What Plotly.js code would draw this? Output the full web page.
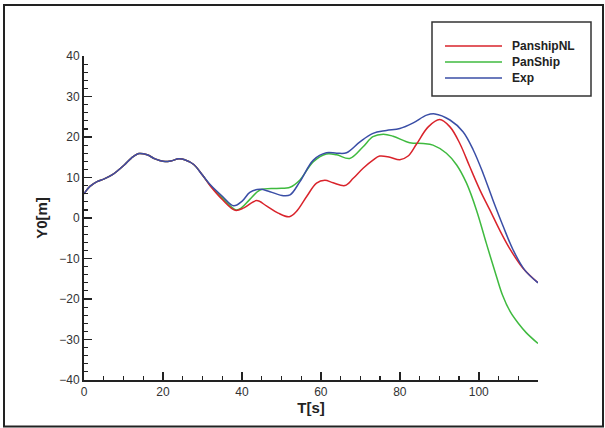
<!DOCTYPE html>
<html>
<head>
<meta charset="utf-8">
<script src="https://cdn.plot.ly/plotly-3.0.1.min.js"></script>
<style>
  html, body { margin: 0; padding: 0; background: #fff; }
  #chart { width: 605px; height: 428px; }
</style>
</head>
<body>
<div id="chart"></div>
<script>
// ---- data ----
const seriesNames = ['PanshipNL', 'PanShip', 'Exp'];
const seriesColors = ['#d9232b', '#3fba3f', '#3a4ea6'];

const tNL = [0, 1.5, 3.3, 5, 7.2, 10.2, 12, 13.9, 16, 18, 20, 22, 24, 25.5, 27.8, 30, 32,
  35.1, 38.3, 40.5, 43.7, 46.2, 49.2, 52, 53.8, 56.4, 58.9, 61, 63.1, 66.1, 68.2, 70.7, 73.2,
  74.9, 77.5, 80, 82.1, 84.2, 87.2, 90.1, 92.7, 95.2, 97.7, 100.3, 102.8, 105.3, 107.8, 111.2, 115];
const yNL = [6.0, 7.8, 9.0, 9.6, 10.7, 13.1, 14.8, 15.9, 15.6, 14.6, 14.0, 14.1, 14.6, 14.4, 13.2, 10.6, 7.9,
  4.5, 1.9, 2.5, 4.3, 3.0, 1.2, 0.3, 1.6, 5.3, 8.6, 9.3, 8.7, 8.0, 9.8, 12.3, 14.3,
  15.3, 15.0, 14.4, 15.3, 18.2, 22.5, 24.3, 22.5, 18.4, 12.7, 6.9, 2.0, -3.0, -7.5, -12.4, -16.0];

const tPS = [0, 1.5, 3.3, 5, 7.2, 10.2, 12, 13.9, 16, 18, 20, 22, 24, 25.5, 27.8, 30, 32,
  35.1, 38.5, 40, 42, 44.6, 48.8, 52.2, 54.7, 58.1, 61.4, 64, 67.3, 70.7, 73.2, 75.8, 78.3,
  82.5, 85.9, 88.4, 91.8, 94.4, 96.9, 99.4, 101.9, 104.5, 106, 108, 110, 112, 115];
const yPS = [6.0, 7.8, 9.0, 9.6, 10.7, 13.1, 14.8, 15.9, 15.6, 14.6, 14.0, 14.1, 14.6, 14.4, 13.2, 10.6, 8.0,
  4.9, 2.0, 2.6, 4.6, 6.9, 7.3, 7.6, 9.4, 13.9, 15.8, 15.6, 14.7, 17.6, 20.1, 20.7, 20.2,
  18.6, 18.4, 18.0, 16.0, 13.1, 8.6, 2.0, -6.2, -14.5, -19.0, -23.2, -26.0, -28.3, -31.0];

const tExp = [0, 1.5, 3.3, 5, 7.2, 10.2, 12, 13.9, 16, 18, 20, 22, 24, 25.5, 27.8, 30, 32,
  35.1, 37.9, 40, 42, 44.6, 47.1, 50.5, 52.2, 54.7, 58.1, 61.4, 64, 66.5, 69.9, 73.2, 76.6,
  80, 83.4, 86.8, 88.9, 92.7, 96, 98.6, 101.1, 103.6, 106.2, 108.7, 111.6, 115];
const yExp = [6.0, 7.8, 9.0, 9.6, 10.7, 13.1, 14.8, 15.9, 15.6, 14.6, 14.0, 14.1, 14.6, 14.4, 13.2, 10.6, 8.2,
  5.3, 3.0, 4.1, 6.3, 7.1, 6.5, 5.5, 5.7, 9.0, 14.3, 16.1, 16.0, 16.1, 18.8, 20.9, 21.6,
  22.1, 23.5, 25.4, 25.7, 24.2, 21.3, 16.8, 11.0, 4.4, -2.1, -7.9, -12.8, -16.0];

const xRange = [0, 115];
const yRange = [-40, 40];
const xTitle = 'T[s]';
const yTitle = 'Y0[m]';

// ---- layout geometry (pixels) ----
const W = 605, H = 428;
const M = { l: 84, r: 67, t: 56, b: 48 };
const PW = W - M.l - M.r, PH = H - M.t - M.b;
const px = x => (x - M.l) / PW;
const py = y => (H - M.b - y) / PH;

const xs = [tNL, tPS, tExp];
const ys = [yNL, yPS, yExp];

const traces = seriesNames.map((n, i) => ({
  x: xs[i], y: ys[i], name: n, type: 'scatter', mode: 'lines',
  line: { color: seriesColors[i], width: 1.5, shape: 'spline', smoothing: 1 },
  showlegend: false
}));
// draw order: green, red, blue on top
const ordered = [traces[1], traces[0], traces[2]];

const font = 'Liberation Sans, Arial, Helvetica, sans-serif';

const shapes = [
  // outer frame
  { type: 'rect', xref: 'paper', yref: 'paper', x0: px(4), x1: px(603), y0: py(426.5), y1: py(5),
    line: { color: '#222', width: 2 }, fillcolor: 'rgba(0,0,0,0)' },
  // legend box
  { type: 'rect', xref: 'paper', yref: 'paper', x0: px(432), x1: px(591), y0: py(96), y1: py(22),
    line: { color: '#333', width: 1.5 }, fillcolor: 'rgba(0,0,0,0)' }
];
const legendY = [46, 62, 78];
const annotations = [];
seriesNames.forEach((n, i) => {
  shapes.push({ type: 'line', xref: 'paper', yref: 'paper', x0: px(445), x1: px(502),
    y0: py(legendY[i]), y1: py(legendY[i]), line: { color: seriesColors[i], width: 1.5 } });
  annotations.push({ xref: 'paper', yref: 'paper', x: px(510), y: py(legendY[i]),
    xanchor: 'left', yanchor: 'middle', showarrow: false, text: n,
    font: { family: font, size: 12, color: '#222', weight: 'bold' } });
});

const axisCommon = {
  showline: true, linecolor: '#222', linewidth: 2, mirror: false,
  ticks: 'inside', ticklen: 8, tickwidth: 1.5, tickcolor: '#222',
  showgrid: false, zeroline: false, fixedrange: true,
  tickfont: { family: font, size: 12, color: '#333' }
};

const layout = {
  width: W, height: H, margin: M,
  paper_bgcolor: '#fff', plot_bgcolor: '#fff',
  showlegend: false,
  xaxis: Object.assign({}, axisCommon, {
    range: xRange, tick0: 0, dtick: 20,
    minor: { dtick: 5, tick0: 0, ticks: 'inside', ticklen: 4, tickwidth: 1.2, tickcolor: '#222' },
    title: { text: xTitle, standoff: 2, font: { family: font, size: 15, color: '#222', weight: 'bold' } }
  }),
  yaxis: Object.assign({}, axisCommon, {
    range: yRange, tick0: 0, dtick: 10,
    minor: { dtick: 2, tick0: 0, ticks: 'inside', ticklen: 4, tickwidth: 1.2, tickcolor: '#222' },
    title: { text: yTitle, standoff: 8, font: { family: font, size: 15, color: '#222', weight: 'bold' } }
  }),
  shapes: shapes,
  annotations: annotations
};

Plotly.newPlot('chart', ordered, layout, { staticPlot: true, displayModeBar: false });
</script>
</body>
</html>
